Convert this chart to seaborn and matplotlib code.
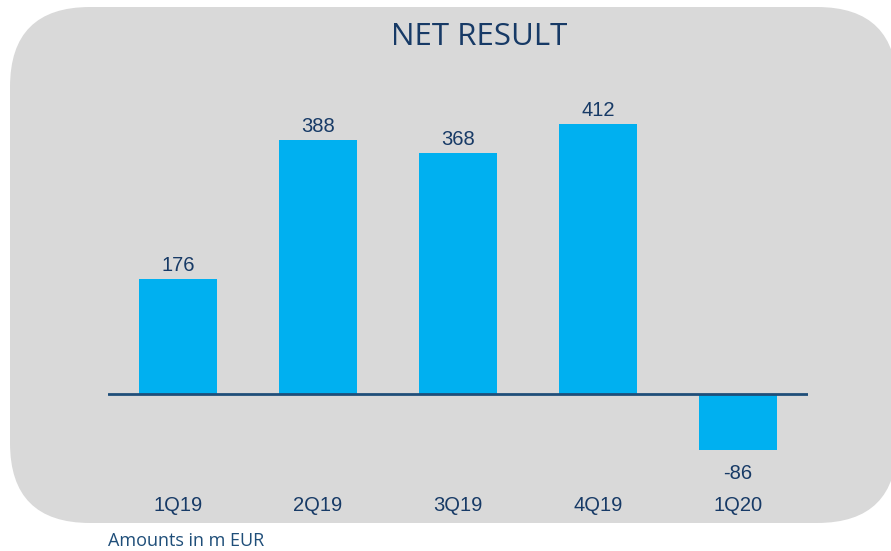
import matplotlib
matplotlib.use("Agg")
import matplotlib.pyplot as plt
from matplotlib.patches import FancyBboxPatch
import seaborn as sns
import pandas as pd

categories = ["1Q19", "2Q19", "3Q19", "4Q19", "1Q20"]
values = [176, 388, 368, 412, -86]
title = "NET RESULT"
note = "Amounts in m EUR"

BAR = "#00b0f0"
NAVY = "#173a66"
GREY = "#d9d9d9"

sns.set_theme(style="white")
plt.rcParams["font.family"] = ["Liberation Sans", "DejaVu Sans"]

W, H = 891, 551
fig = plt.figure(figsize=(W / 100, H / 100), dpi=100)
fig.patch.set_facecolor("white")

# background rounded panel in pixel coordinates
bg = fig.add_axes([0, 0, 1, 1])
bg.set_xlim(0, W)
bg.set_ylim(H, 0)
bg.axis("off")
bg.add_patch(FancyBboxPatch((10 + 80, 7 + 80), 887 - 160, 516 - 160,
                            boxstyle="round,pad=80", facecolor=GREY,
                            edgecolor="none"))

# main axes: x 108..808 px, y 60..490 px
ax_left, ax_right, ax_top, ax_bot = 108, 808, 60, 490
ax = fig.add_axes([ax_left / W, 1 - ax_bot / H,
                   (ax_right - ax_left) / W, (ax_bot - ax_top) / H])
ax.patch.set_alpha(0)

df = pd.DataFrame({"cat": categories, "val": values})
sns.barplot(data=df, x="cat", y="val", color=BAR, saturation=1,
            width=0.557, edgecolor="none", linewidth=0, ax=ax)

scale = 0.655
ax.set_xlim(-0.5, len(categories) - 0.5)
ax.set_ylim(-(ax_bot - 394) / scale, (394 - ax_top) / scale)
ax.axhline(0, color="#1f4e79", lw=2.0, zorder=5)

for i, v in enumerate(values):
    if v >= 0:
        ax.annotate(str(v), (i, v), xytext=(0, 3), textcoords="offset points",
                    ha="center", va="bottom", fontsize=14.5, color=NAVY)
    else:
        ax.annotate(str(v), (i, v), xytext=(0, -10), textcoords="offset points",
                    ha="center", va="top", fontsize=14.5, color=NAVY)

ax.set_xlabel("")
ax.set_ylabel("")
ax.set_yticks([])
ax.tick_params(axis="x", length=0, pad=4, labelsize=14.5, labelcolor=NAVY)
for s in ax.spines.values():
    s.set_visible(False)

fig.text(479 / W, 1 - 37 / H, title, ha="center", va="center",
         fontsize=22.5, color=NAVY, family=["Open Sans", "DejaVu Sans"])
fig.text(108 / W, 1 - 541 / H, note, ha="left", va="center",
         fontsize=13, color="#1f4e79", family=["Open Sans", "DejaVu Sans"])

fig.savefig("out.png", dpi=100, facecolor="white")
